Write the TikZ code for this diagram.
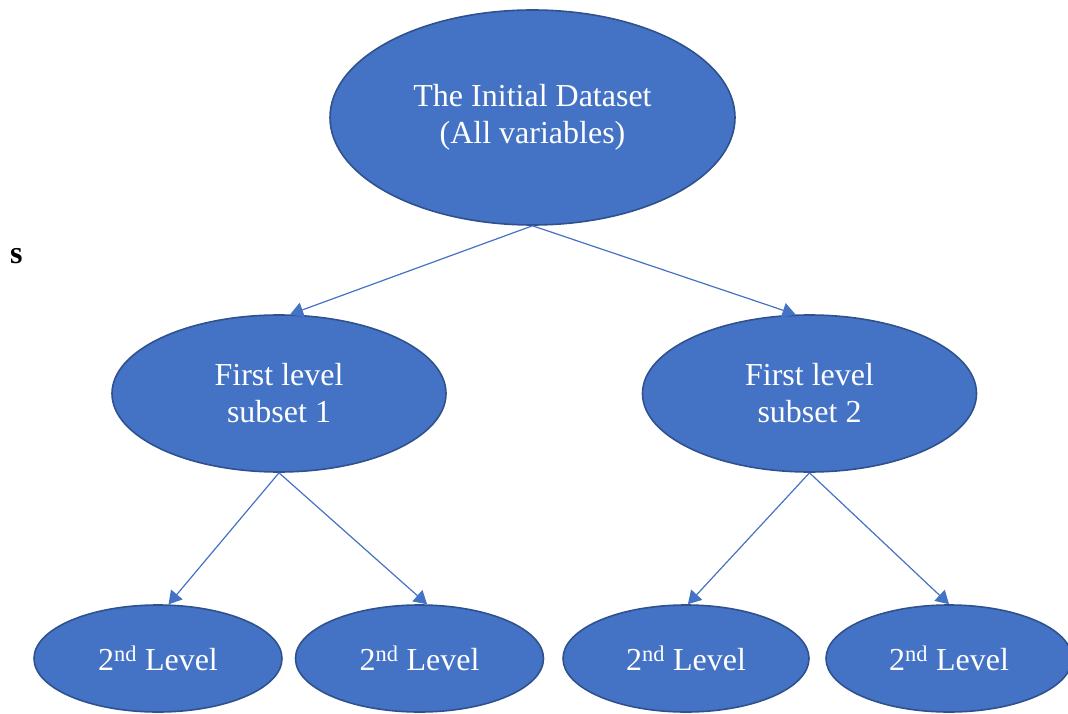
\documentclass[tikz,border=0pt]{standalone}
\usepackage{fontspec}
\setmainfont{Liberation Serif}
\usepackage{tikz}
\usetikzlibrary{arrows.meta,shapes.geometric}

\definecolor{ofblue}{HTML}{4472C4}
\definecolor{ofedge}{HTML}{2F528F}

\begin{document}
\begin{tikzpicture}[
  x=1pt, y=-1pt,
  font=\fontsize{32}{37}\selectfont,
  >={Triangle[length=13pt,width=15pt]},
  ell/.style = {ellipse, draw=ofedge, line width=1.6pt, fill=ofblue,
                text=white, align=center, inner sep=0pt},
  arr/.style = {->, ofblue, line width=1.2pt},
]

\useasboundingbox (0,0) rectangle (1068,714);

% root
\node[ell, minimum width=405pt, minimum height=215pt] (root) at (532.5,117.5)
  {The Initial Dataset\\(All variables)};

% first level
\node[ell, minimum width=334pt, minimum height=157pt] (subA) at (279,393.5)
  {First level\\subset 1};
\node[ell, minimum width=334pt, minimum height=157pt] (subB) at (809.5,393.5)
  {First level\\subset 2};

% second level
\def\lvl{2\textsuperscript{nd} Level}
\node[ell, minimum width=248pt, minimum height=107pt] (leafA) at (158,658.5)   {\lvl};
\node[ell, minimum width=248pt, minimum height=107pt] (leafB) at (419.5,658.5) {\lvl};
\node[ell, minimum width=246pt, minimum height=107pt] (leafC) at (686,658.5)   {\lvl};
\node[ell, minimum width=246pt, minimum height=107pt] (leafD) at (949,658.5)   {\lvl};

% stray letter
\node[font=\fontsize{32}{37}\selectfont\bfseries, anchor=base west, inner sep=0pt]
  (mark) at (10,263) {s};

% connectors
\draw[arr] (root.south) -- (subA.82);
\draw[arr] (root.south) -- (subB.100);
\draw[arr] (subA.south) -- (leafA.79);
\draw[arr] (subA.south) -- (leafB.82);
\draw[arr] (subB.south) -- (leafC.88);
\draw[arr] (subB.south) -- (leafD.north);

\end{tikzpicture}
\end{document}
